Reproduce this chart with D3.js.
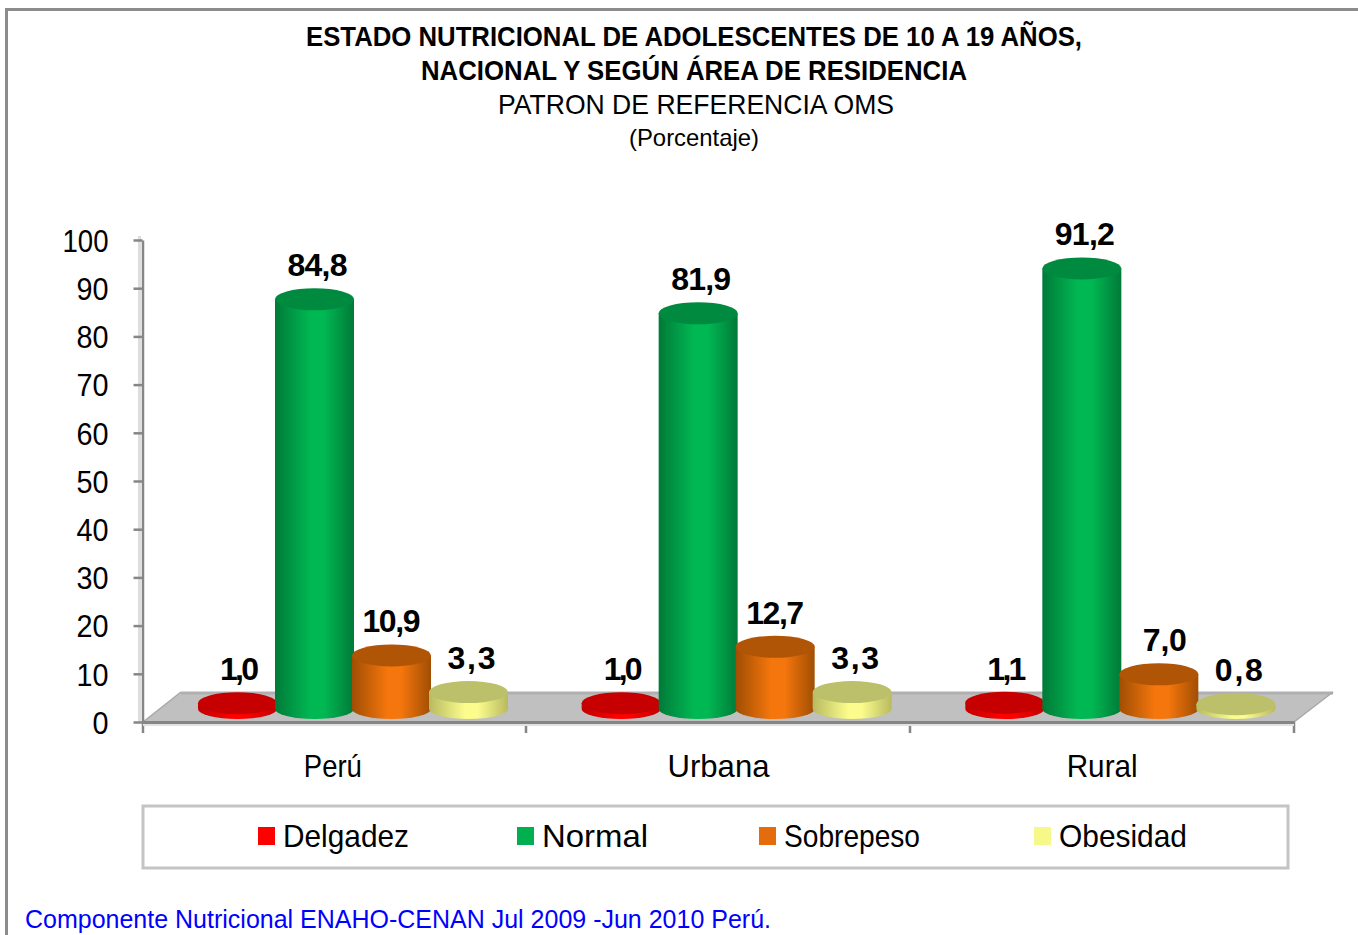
<!DOCTYPE html>
<html><head><meta charset="utf-8">
<script src="https://cdn.jsdelivr.net/npm/d3@7"></script>
<style>html,body{margin:0;padding:0;background:#fff;overflow:hidden}svg{display:block}text{font-family:"Liberation Sans",Arial,sans-serif}</style>
</head><body><svg id="c" width="1358" height="935"></svg>
<script>
const categories = ["Perú","Urbana","Rural"];
const seriesNames = ["Delgadez","Normal","Sobrepeso","Obesidad"];
const delgadez = [1.0,1.0,1.1];
const normal = [84.8,81.9,91.2];
const sobrepeso = [10.9,12.7,7.0];
const obesidad = [3.3,3.3,0.8];
const seriesValues = [delgadez,normal,sobrepeso,obesidad];
const yTicks = [0,10,20,30,40,50,60,70,80,90,100];
const colors = {
  Delgadez:{main:"#ff0000",side:"#c00000",top:"#c60000",swatch:"#ff0000"},
  Normal:{main:"#00b853",side:"#007a38",top:"#008a40",swatch:"#00b050"},
  Sobrepeso:{main:"#f5760c",side:"#a04e04",top:"#b05506",swatch:"#e46c0a"},
  Obesidad:{main:"#fbfc8c",side:"#b8ba60",top:"#bcc06a",swatch:"#f6f98a"}
};
const svg = d3.select("#c");
const defs = svg.append("defs");
seriesNames.forEach((s,i)=>{
  const g = defs.append("linearGradient").attr("id","g"+i);
  [[0,colors[s].side],[.45,colors[s].main],[.62,colors[s].main],[1,colors[s].side]].forEach(([o,c])=>g.append("stop").attr("offset",o).attr("stop-color",c));
});
// frame
svg.append("path").attr("d","M6.5,935V9.5H1358").attr("fill","none").attr("stroke","#8c8c8c").attr("stroke-width",3);
const T=(t,x,y,size,w,len,fill)=>svg.append("text").attr("x",x).attr("y",y).attr("font-size",size).attr("font-weight",w).attr("fill",fill||"#000").attr("textLength",len).attr("lengthAdjust","spacingAndGlyphs").text(t);
T("ESTADO NUTRICIONAL DE ADOLESCENTES DE 10 A 19 AÑOS,",306,46,28,"bold",776);
T("NACIONAL Y SEGÚN ÁREA DE RESIDENCIA",421,80,28,"bold",546);
T("PATRON DE REFERENCIA OMS",498,114,28,"normal",396);
T("(Porcentaje)",629,146,24,"normal",130);
const y0=722;
const y=d3.scaleLinear().domain([0,100]).range([y0,240]);
const x=d3.scaleBand().domain(categories).range([143,1294]);
const sx=d3.scaleBand().domain(seriesNames).range([0,308]);
const bw=79, ry=11, baseLift=13;
// floor
svg.append("path").attr("d",`M143,${y0}L181,692H1333L1294,${y0}Z`).attr("fill","#c0c0c0");
svg.append("path").attr("d","M181,693H1333").attr("stroke","#b0b0b0").attr("stroke-width",3);
svg.append("path").attr("d",`M143,${y0}L181,692M1294,${y0}L1333,692`).attr("stroke","#a8a8a8").attr("stroke-width",1.5).attr("fill","none");
// axes
svg.append("line").attr("x1",139.5).attr("x2",139.5).attr("y1",236).attr("y2",y0).attr("stroke","#dedede").attr("stroke-width",3);
const yAxis=d3.axisLeft(y).tickValues(yTicks).tickSize(9).tickSizeOuter(0).tickFormat(d=>d);
const ga=svg.append("g").attr("transform","translate(142.5,0)").call(yAxis);
ga.selectAll("path,line").attr("stroke","#868686").attr("stroke-width",2.5);
ga.selectAll("text").attr("font-size",32).attr("fill","#000").attr("x",-34).attr("dy",".35em").attr("text-anchor","end")
  .attr("textLength",d=>d===100?46:d===0?16:32).attr("lengthAdjust","spacingAndGlyphs");
const labelW={"Perú":58,"Urbana":102,"Rural":71};
const xAxis=d3.axisBottom(x).tickSize(0).tickSizeOuter(0);
const gx=svg.append("g").attr("transform",`translate(0,${y0})`).call(xAxis);
gx.select("path").attr("stroke","#868686").attr("stroke-width",3);
gx.selectAll("text").attr("font-size",32).attr("fill","#000").attr("y",32).attr("dy",".71em")
  .attr("dx",d=>d==="Perú"?-2:0).attr("textLength",d=>labelW[d]).attr("lengthAdjust","spacingAndGlyphs");
[143,526,910,1294].forEach(v=>svg.append("line").attr("x1",v).attr("x2",v).attr("y1",y0).attr("y2",733).attr("stroke","#868686").attr("stroke-width",2.5));
svg.append("line").attr("x1",143).attr("x2",1294).attr("y1",y0+3).attr("y2",y0+3).attr("stroke","#e2e2e2").attr("stroke-width",2);
// bars
const labelWidths=[39,60,58,48], labelDx=[2,3,0,3];
categories.forEach((c,ci)=>{
  const left=x(c)+56;
  seriesNames.forEach((s,si)=>{
    const v=seriesValues[si][ci];
    const cx=left+sx(s)+sx.bandwidth()/2;
    const yb=y0-baseLift, yt=y(v)-baseLift-1, rx=bw/2;
    const g=svg.append("g");
    g.append("path").attr("d",`M${cx-rx},${yt}V${yb}A${rx},${ry-1} 0 0 0 ${cx+rx},${yb}V${yt}Z`).attr("fill",`url(#g${si})`);
    g.append("ellipse").attr("cx",cx).attr("cy",yt).attr("rx",rx).attr("ry",ry).attr("fill",colors[s].top);
    const str=d3.format(".1f")(v).replace(".",",");
    const w=str==="7,0"?44:labelWidths[si];
    const lift=si===0?23:(si===3?23:23);
    svg.append("text").attr("class","val").attr("x",cx+labelDx[si]-w/2+(str==="7,0"?6:0)).attr("y",yt-lift)
      .attr("font-size",32).attr("font-weight","bold").attr("textLength",w).attr("lengthAdjust","spacing").text(str);
  });
});
svg.selectAll("text.val").raise();
// legend
svg.append("rect").attr("x",143).attr("y",806).attr("width",1145).attr("height",62).attr("fill","#fff").attr("stroke","#c4c4c4").attr("stroke-width",3);
const lgx=d3.scaleOrdinal().domain(seriesNames).range([258,517,759,1034]);
const lgw={Delgadez:126,Normal:106,Sobrepeso:136,Obesidad:128};
seriesNames.forEach(s=>{
  svg.append("rect").attr("x",lgx(s)).attr("y",827).attr("width",17).attr("height",18).attr("fill",colors[s].swatch);
  T(s,lgx(s)+25,847,32,"normal",lgw[s]);
});
T("Componente Nutricional ENAHO-CENAN Jul 2009 -Jun 2010 Perú.",25,928,26,"normal",746,"#0000ff");
</script></body></html>
